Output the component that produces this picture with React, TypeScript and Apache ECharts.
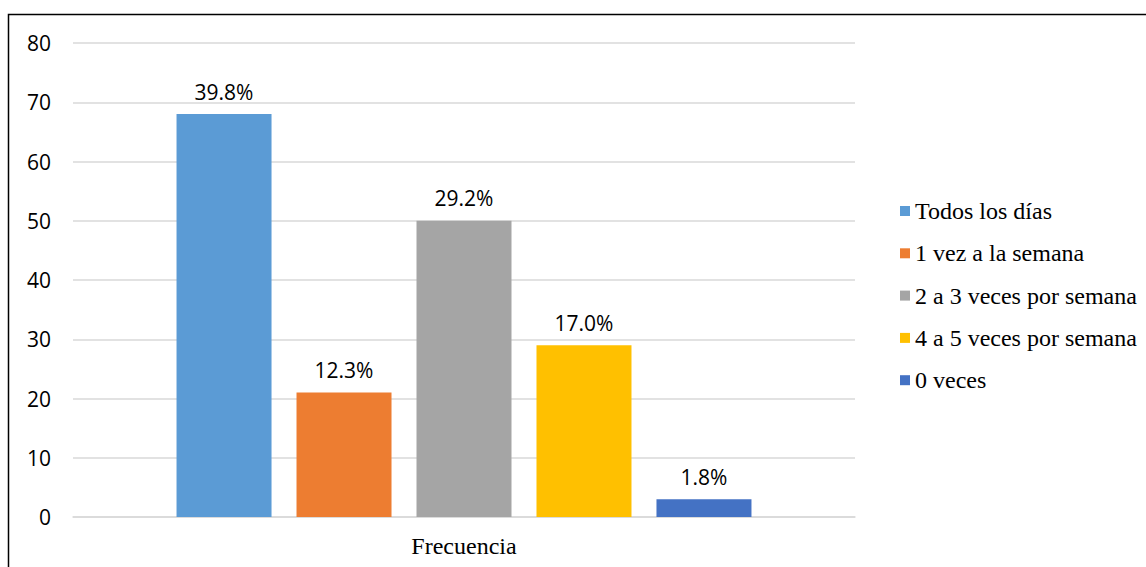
import React, { useEffect, useRef } from "react";
import * as echarts from "echarts";

const categories = ["Frecuencia"];
const seriesNames = [
  "Todos los días",
  "1 vez a la semana",
  "2 a 3 veces por semana",
  "4 a 5 veces por semana",
  "0 veces",
];
const counts = [68, 21, 50, 29, 3];
const colors = ["#5B9BD5", "#ED7D31", "#A5A5A5", "#FFC000", "#4472C4"];
const yTicks = { min: 0, max: 80, interval: 10 };

const total = counts.reduce((a, b) => a + b, 0);

export default function App() {
  const ref = useRef<HTMLDivElement>(null);

  useEffect(() => {
    if (!ref.current) return;
    const chart = echarts.init(ref.current, null, { renderer: "svg" });
    chart.setOption({
      animation: false,
      backgroundColor: "#fff",
      graphic: [
        {
          type: "rect",
          shape: { x: 8.5, y: 14.5, width: 1200, height: 600 },
          style: { fill: "none", stroke: "#000", lineWidth: 1.5 },
          silent: true,
        },
      ],
      grid: { left: 73, right: 291, top: 43, bottom: 50, containLabel: false },
      legend: {
        orient: "vertical",
        left: 895,
        top: 193,
        icon: "rect",
        itemWidth: 10,
        itemHeight: 10,
        itemGap: 16.3,
        data: seriesNames,
        textStyle: {
          fontFamily: "Liberation Serif",
          fontSize: 24,
          color: "#000",
          lineHeight: 26,
        },
      },
      xAxis: {
        type: "category",
        data: categories,
        axisLine: { show: true, lineStyle: { color: "#d9d9d9", width: 1.5 } },
        axisTick: { show: false },
        axisLabel: {
          fontFamily: "Liberation Serif",
          fontSize: 24,
          color: "#000",
          margin: 17,
        },
      },
      yAxis: {
        type: "value",
        min: yTicks.min,
        max: yTicks.max,
        interval: yTicks.interval,
        axisLine: { show: false },
        axisTick: { show: false },
        splitLine: { lineStyle: { color: "#d9d9d9", width: 1.5 } },
        axisLabel: {
          fontFamily: "Open Sans",
          fontSize: 21,
          color: "#000",
          margin: 22,
        },
      },
      series: seriesNames.map((name, i) => ({
        name,
        type: "bar",
        data: [counts[i]],
        barWidth: 95,
        barGap: "26.3%",
        itemStyle: { color: colors[i] },
        label: {
          show: true,
          position: "top",
          distance: 12,
          fontFamily: "Open Sans",
          fontSize: 21,
          color: "#000",
          formatter: () => ((counts[i] / total) * 100).toFixed(1) + "%",
        },
      })),
    });
    return () => chart.dispose();
  }, []);

  return (
    <div
      ref={ref}
      style={{ position: "fixed", left: 0, top: 0, width: 1146, height: 567 }}
    />
  );
}
